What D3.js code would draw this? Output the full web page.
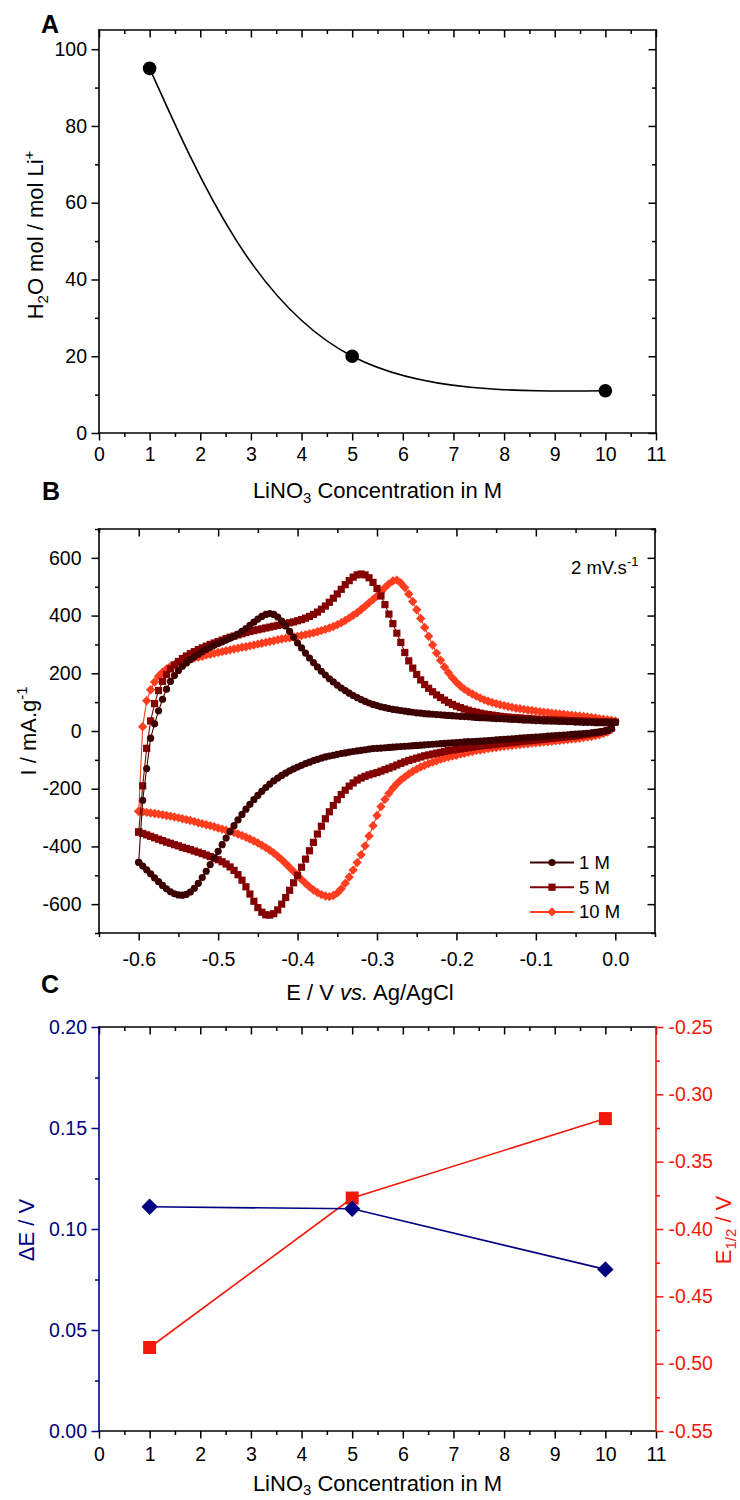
<!DOCTYPE html>
<html><head><meta charset="utf-8">
<script src="https://cdn.jsdelivr.net/npm/d3@7"></script>
<style>body{margin:0;background:#fff} svg{display:block}</style>
</head><body>
<script>
// ---------------- DATA ----------------
// Panel A
const concA = [1, 5, 10];
const h2oPerLi = [95, 20, 11];
const xTicksConc = [0,1,2,3,4,5,6,7,8,9,10,11];
const xMinorConc = [0.5,1.5,2.5,3.5,4.5,5.5,6.5,7.5,8.5,9.5,10.5];
const yTicksA = [0,20,40,60,80,100];
const yMinorA = [10,30,50,70,90];

// Panel B: cyclic voltammetry at 2 mV/s; potential grid (mV vs Ag/AgCl)
const potential_mV = [-600,-595,-590,-585,-580,-575,-570,-565,-560,-555,
 -550,-545,-540,-535,-530,-525,-520,-515,-510,-505,
 -500,-495,-490,-485,-480,-475,-470,-465,-460,-455,
 -450,-445,-440,-435,-430,-425,-420,-415,-410,-405,
 -400,-395,-390,-385,-380,-375,-370,-365,-360,-355,
 -350,-345,-340,-335,-330,-325,-320,-315,-310,-305,
 -300,-295,-290,-285,-280,-275,-270,-265,-260,-255,
 -250,-245,-240,-235,-230,-225,-220,-215,-210,-205,
 -200,-195,-190,-185,-180,-175,-170,-165,-160,-155,
 -150,-145,-140,-135,-130,-125,-120,-115,-110,-105,
 -100,-95,-90,-85,-80,-75,-70,-65,-60,-55,
 -50,-45,-40,-35,-30,-25,-20,-15,-10,-5,
 0];
// anodic (forward, -0.6 -> 0) and cathodic (reverse) currents, mA/g, listed on the grid above
const anodic1M = [-455,-240,-130,-25,25,70,110,145,172,192,
 210,224,236,247,257,266,275,283,290,297,
 303,309,315,321,328,336,345,355,366,377,
 388,397,404,407,404,395,381,364,345,325,
 305,288,270,253,237,222,207,194,181,170,
 159,149,140,131,123,116,109,103,97,92,
 88,84,81,78,75,73,71,69,67,65,
 63,62,60,59,58,57,56,55,54,53,
 52,51,50,49,48,47,46,46,45,44,
 43,43,42,41,40,40,39,38,38,37,
 36,36,35,35,34,34,33,33,32,32,
 31,31,30,30,30,29,29,29,29,29,
 30];
const cathodic1M = [-455,-468,-481,-495,-509,-522,-535,-547,-557,-564,
 -568,-569,-566,-558,-545,-528,-508,-486,-463,-440,
 -417,-394,-371,-349,-328,-308,-289,-271,-254,-238,
 -223,-209,-196,-184,-173,-163,-154,-146,-138,-131,
 -125,-119,-113,-108,-103,-98,-94,-90,-87,-84,
 -81,-78,-76,-73,-71,-69,-67,-65,-63,-61,
 -60,-59,-58,-57,-56,-55,-54,-53,-52,-51,
 -50,-49,-48,-47,-46,-45,-44,-43,-42,-41,
 -40,-39,-38,-37,-37,-36,-35,-34,-33,-32,
 -31,-30,-29,-28,-27,-26,-25,-24,-23,-22,
 -21,-20,-19,-18,-17,-16,-15,-14,-13,-12,
 -11,-10,-9,-8,-6,-5,-3,-1,2,8,
 30];
const anodic5M = [-350,-190,-60,35,95,140,172,196,215,229,
 241,251,260,268,275,282,288,294,300,305,
 310,315,320,325,329,333,337,341,345,348,
 351,354,357,360,363,366,369,372,375,378,
 382,386,391,397,404,412,422,433,446,460,
 475,491,507,521,533,541,544,541,531,515,
 494,468,438,405,372,339,307,272,243,218,
 196,177,161,148,136,125,116,107,99,92,
 86,81,76,72,68,65,62,59,57,55,
 53,51,49,48,47,46,45,44,43,42,
 41,40,40,39,38,38,37,37,36,36,
 35,35,34,34,33,33,32,32,32,31,
 31];
const cathodic5M = [-350,-355,-360,-365,-370,-375,-380,-385,-389,-394,
 -398,-403,-407,-411,-416,-420,-425,-430,-435,-440,
 -446,-453,-461,-471,-483,-498,-517,-540,-565,-590,
 -612,-628,-637,-638,-633,-620,-600,-577,-552,-526,
 -500,-472,-444,-415,-386,-357,-330,-304,-280,-258,
 -238,-220,-205,-191,-180,-170,-163,-157,-152,-148,
 -144,-139,-134,-129,-124,-118,-112,-107,-102,-98,
 -94,-90,-86,-83,-80,-77,-74,-71,-68,-66,
 -64,-62,-60,-58,-56,-54,-52,-50,-49,-47,
 -46,-44,-43,-41,-40,-38,-37,-35,-34,-33,
 -31,-30,-29,-27,-26,-24,-23,-21,-20,-18,
 -17,-15,-13,-11,-9,-7,-5,-2,2,10,
 31];
const anodic10M = [-278,15,105,143,170,190,204,215,224,230,
 235,240,245,249,253,256,259,263,266,269,
 272,275,278,281,284,287,290,292,295,298,
 301,304,307,310,313,316,319,321,323,326,
 328,331,334,337,340,344,348,352,357,362,
 368,375,383,392,401,410,421,432,444,456,
 468,482,497,510,520,523,513,497,475,449,
 420,390,359,328,298,270,245,222,202,184,
 169,156,145,136,128,121,114,108,103,99,
 95,91,88,85,82,79,77,75,73,71,
 69,67,65,64,62,61,59,58,56,55,
 53,52,50,49,47,45,43,41,39,37,
 35];
const cathodic10M = [-278,-280,-282,-284,-286,-288,-290,-293,-295,-298,
 -301,-304,-307,-310,-314,-318,-321,-325,-328,-332,
 -336,-340,-344,-348,-352,-357,-362,-368,-374,-381,
 -388,-396,-404,-413,-423,-434,-446,-459,-473,-487,
 -501,-515,-528,-540,-551,-560,-567,-572,-574,-570,
 -561,-547,-528,-506,-482,-456,-429,-398,-364,-328,
 -293,-262,-237,-216,-198,-183,-170,-159,-149,-140,
 -132,-125,-119,-113,-108,-103,-98,-94,-90,-87,
 -84,-80,-77,-74,-71,-68,-66,-63,-61,-59,
 -57,-55,-53,-51,-50,-48,-47,-45,-44,-42,
 -41,-40,-38,-37,-36,-34,-33,-31,-30,-28,
 -27,-25,-23,-21,-19,-16,-13,-9,-4,5,
 35];
const seriesNames = ["1 M", "5 M", "10 M"];
const xTicksB = [-0.6,-0.5,-0.4,-0.3,-0.2,-0.1,0.0];
const xMinorB = [-0.65,-0.55,-0.45,-0.35,-0.25,-0.15,-0.05,0.05];
const yTicksB = [-600,-400,-200,0,200,400,600];
const yMinorB = [-700,-500,-300,-100,100,300,500,700];

// Panel C
const concC = [1, 5, 10];
const deltaE = [0.111, 0.110, 0.080];
const eHalf = [-0.488, -0.377, -0.318];
const yTicksCL = [0, 0.05, 0.10, 0.15, 0.20];
const yMinorCL = [0.025, 0.075, 0.125, 0.175];
const yTicksCR = [-0.55, -0.50, -0.45, -0.40, -0.35, -0.30, -0.25];
const yMinorCR = [-0.525, -0.475, -0.425, -0.375, -0.325, -0.275];

// ---------------- DRAWING ----------------
const FONT = '"Liberation Sans", Arial, Helvetica, sans-serif';
const TICK_FS = 19.5, TITLE_FS = 22;
const col1 = "#3d0000", col5 = "#850000", col10 = "#ff3d1f";
const navy = "#000080", red = "#f2190b";

const svg = d3.select("body").append("svg").attr("width", 740).attr("height", 1500)
  .style("font-family", FONT);

const hy = f => d => d3.format(f)(d).replace("\u2212", "-");

function makeAxis(parent, orient, scale, pos, o) {
  const gen = {bottom: d3.axisBottom, top: d3.axisTop, left: d3.axisLeft, right: d3.axisRight}[orient];
  const horiz = orient === "bottom" || orient === "top";
  const tr = horiz ? `translate(0,${pos})` : `translate(${pos},0)`;
  const s = o.inward ? -1 : 1;
  const color = o.color || "#000";
  if (o.minor) {
    const gm = parent.append("g").attr("transform", tr).style("color", color)
      .call(gen(scale).tickValues(o.minor).tickSize(s * 4).tickFormat(() => ""));
    gm.select(".domain").remove();
    gm.selectAll("line").attr("stroke-width", 1.5);
  }
  const g = parent.append("g").attr("transform", tr).style("color", color)
    .call(gen(scale).tickValues(o.major).tickSize(s * 7.5).tickPadding(o.pad || 5)
      .tickFormat(o.fmt || (() => "")));
  g.select(".domain").remove();
  g.selectAll("line").attr("stroke-width", 1.5);
  g.selectAll("text").attr("font-size", TICK_FS).attr("font-family", FONT).attr("fill", color);
  return g;
}

function frame(parent, x0, x1, y0, y1, colors) {
  const c = Object.assign({top: "#000", bottom: "#000", left: "#000", right: "#000"}, colors || {});
  const seg = (a, b, cc, d, col) => parent.append("line").attr("x1", a).attr("y1", b).attr("x2", cc).attr("y2", d)
    .attr("stroke", col).attr("stroke-width", 1.6).attr("stroke-linecap", "square");
  seg(x0, y0, x1, y0, c.top);
  seg(x0, y1, x1, y1, c.bottom);
  seg(x0, y0, x0, y1, c.left);
  seg(x1, y0, x1, y1, c.right);
}

// smooth connector: natural cubic spline with chord-length parametrisation, emitted as Bezier segments
function splineConnector(pts) {
  const n = pts.length;
  const X = pts.map(p => p[0]), Y = pts.map(p => p[1]);
  const h = [];
  for (let i = 0; i < n - 1; i++) h.push(Math.hypot(X[i + 1] - X[i], Y[i + 1] - Y[i]));
  function second(f) {
    const M = new Array(n).fill(0);
    if (n < 3) return M;
    const a = [], b = [], c = [], d = [];
    for (let i = 1; i < n - 1; i++) {
      a.push(h[i - 1]); b.push(2 * (h[i - 1] + h[i])); c.push(h[i]);
      d.push(6 * ((f[i + 1] - f[i]) / h[i] - (f[i] - f[i - 1]) / h[i - 1]));
    }
    const m = b.length;
    for (let i = 1; i < m; i++) { const w = a[i] / b[i - 1]; b[i] -= w * c[i - 1]; d[i] -= w * d[i - 1]; }
    const s = new Array(m);
    s[m - 1] = d[m - 1] / b[m - 1];
    for (let i = m - 2; i >= 0; i--) s[i] = (d[i] - c[i] * s[i + 1]) / b[i];
    for (let i = 0; i < m; i++) M[i + 1] = s[i];
    return M;
  }
  const Mx = second(X), My = second(Y);
  const p = d3.path();
  p.moveTo(X[0], Y[0]);
  for (let i = 0; i < n - 1; i++) {
    const hi = h[i];
    const der = (f, M) => [(f[i + 1] - f[i]) / hi - hi * (2 * M[i] + M[i + 1]) / 6,
                           (f[i + 1] - f[i]) / hi + hi * (M[i] + 2 * M[i + 1]) / 6];
    const [dx0, dx1] = der(X, Mx), [dy0, dy1] = der(Y, My);
    p.bezierCurveTo(X[i] + hi * dx0 / 3, Y[i] + hi * dy0 / 3,
                    X[i + 1] - hi * dx1 / 3, Y[i + 1] - hi * dy1 / 3, X[i + 1], Y[i + 1]);
  }
  return p.toString();
}

function panelLetter(t, x, y) {
  svg.append("text").attr("x", x).attr("y", y).attr("font-size", 25).attr("font-weight", "bold").text(t);
}

// ---------- Panel A ----------
{
  const g = svg.append("g");
  const x = d3.scaleLinear().domain([0, 11]).range([99, 656]);
  const y = d3.scaleLinear().domain([0, 105]).range([433, 30]);
  makeAxis(g, "bottom", x, 433, {major: xTicksConc, minor: xMinorConc, fmt: d3.format("d"), pad: 7});
  makeAxis(g, "top", x, 30, {major: xTicksConc, minor: xMinorConc, inward: true});
  makeAxis(g, "left", y, 99, {major: yTicksA, minor: yMinorA, fmt: d3.format("d"), pad: 4.5});
  makeAxis(g, "right", y, 656, {major: yTicksA, minor: yMinorA, inward: true});
  frame(g, 99, 656, 30, 433);

  const pts = concA.map((c, i) => [x(c), y(h2oPerLi[i])]);
  g.append("path").attr("d", splineConnector(pts))
    .attr("fill", "none").attr("stroke", "#000").attr("stroke-width", 1.6);
  g.selectAll("circle.pa").data(pts).join("circle").attr("cx", d => d[0]).attr("cy", d => d[1])
    .attr("r", 6.8).attr("fill", "#000");

  const xt = g.append("text").attr("x", 377.5).attr("y", 498).attr("text-anchor", "middle").attr("font-size", TITLE_FS);
  xt.append("tspan").text("LiNO");
  xt.append("tspan").attr("font-size", 15).attr("dy", 5).text("3");
  xt.append("tspan").attr("dy", -5).text(" Concentration in M");

  const yt = g.append("text").attr("transform", "translate(43,235) rotate(-90)").attr("text-anchor", "middle").attr("font-size", TITLE_FS);
  yt.append("tspan").text("H");
  yt.append("tspan").attr("font-size", 15).attr("dy", 5).text("2");
  yt.append("tspan").attr("dy", -5).text("O mol / mol Li");
  yt.append("tspan").attr("font-size", 15).attr("dy", -9).text("+");
  panelLetter("A", 41, 33);
}

// ---------- Panel B ----------
{
  const g = svg.append("g");
  const x = d3.scaleLinear().domain([-0.65, 0.05]).range([99, 655]);
  const y = d3.scaleLinear().domain([-700, 700]).range([933, 529]);
  makeAxis(g, "bottom", x, 933, {major: xTicksB, minor: xMinorB, fmt: hy(".1f"), pad: 12});
  makeAxis(g, "top", x, 529, {major: xTicksB, minor: xMinorB, inward: true});
  makeAxis(g, "left", y, 99, {major: yTicksB, minor: yMinorB, fmt: hy("d"), pad: 10});
  makeAxis(g, "right", y, 655, {major: yTicksB, minor: yMinorB, inward: true});

  const loops = [
    {name: seriesNames[2], an: anodic10M, ca: cathodic10M, color: col10, sym: "diamond"},
    {name: seriesNames[1], an: anodic5M, ca: cathodic5M, color: col5, sym: "square"},
    {name: seriesNames[0], an: anodic1M, ca: cathodic1M, color: col1, sym: "circle"}
  ];
  const symPath = (sym) => {
    if (sym === "circle") return d3.symbol(d3.symbolCircle, Math.PI * 3.6 * 3.6)();
    if (sym === "square") return d3.symbol(d3.symbolSquare, 7.2 * 7.2)();
    const h = 4.7; return `M0,${-h}L${h},0L0,${h}L${-h},0Z`;
  };
  loops.forEach(L => {
    const fwd = potential_mV.map((e, i) => [e / 1000, L.an[i]]);
    const rev = potential_mV.map((e, i) => [e / 1000, L.ca[i]]).reverse();
    const pts = fwd.concat(rev.slice(1));
    g.append("path").attr("d", d3.line().x(d => x(d[0])).y(d => y(d[1]))(pts))
      .attr("fill", "none").attr("stroke", L.color).attr("stroke-width", 1.1);
    const p = symPath(L.sym);
    g.append("g").selectAll("path").data(pts).join("path")
      .attr("transform", d => `translate(${x(d[0])},${y(d[1])})`).attr("d", p).attr("fill", L.color);
  });
  frame(g, 99, 655, 529, 933);

  // legend
  const leg = [
    {name: seriesNames[0], color: col1, sym: "circle"},
    {name: seriesNames[1], color: col5, sym: "square"},
    {name: seriesNames[2], color: col10, sym: "diamond"}
  ];
  leg.forEach((L, i) => {
    const yy = 862.5 + i * 24.7;
    g.append("line").attr("x1", 530).attr("x2", 574).attr("y1", yy).attr("y2", yy)
      .attr("stroke", L.color).attr("stroke-width", 2);
    g.append("path").attr("transform", `translate(552,${yy})`).attr("d", symPath(L.sym)).attr("fill", L.color);
    g.append("text").attr("x", 579).attr("y", yy + 6.5).attr("font-size", 18.5).text(L.name);
  });

  const ann = g.append("text").attr("x", 571).attr("y", 574).attr("font-size", 18.5);
  ann.append("tspan").text("2 mV.s");
  ann.append("tspan").attr("font-size", 13).attr("dy", -8).text("-1");

  const xt = g.append("text").attr("x", 370).attr("y", 1000).attr("text-anchor", "middle").attr("font-size", TITLE_FS);
  xt.append("tspan").text("E / V ");
  xt.append("tspan").attr("font-style", "italic").text("vs.");
  xt.append("tspan").text(" Ag/AgCl");

  const yt = g.append("text").attr("transform", "translate(36,731) rotate(-90)").attr("text-anchor", "middle").attr("font-size", TITLE_FS);
  yt.append("tspan").text("I / mA.g");
  yt.append("tspan").attr("font-size", 15).attr("dy", -9).text("-1");
  panelLetter("B", 42, 500);
}

// ---------- Panel C ----------
{
  const g = svg.append("g");
  const x = d3.scaleLinear().domain([0, 11]).range([99, 656]);
  const yl = d3.scaleLinear().domain([0, 0.2]).range([1431, 1027]);
  const yr = d3.scaleLinear().domain([-0.55, -0.25]).range([1431, 1027]);
  makeAxis(g, "bottom", x, 1431, {major: xTicksConc, minor: xMinorConc, fmt: d3.format("d"), pad: 9});
  makeAxis(g, "top", x, 1027, {major: xTicksConc, minor: xMinorConc, inward: true});
  makeAxis(g, "left", yl, 99, {major: yTicksCL, minor: yMinorCL, fmt: d3.format(".2f"), pad: 4.5, color: navy});
  makeAxis(g, "right", yr, 656, {major: yTicksCR, minor: yMinorCR, fmt: hy(".2f"), pad: 5, color: red});
  frame(g, 99, 656, 1027, 1431, {left: navy, right: red});

  const pE = concC.map((c, i) => [x(c), yr(eHalf[i])]);
  const pD = concC.map((c, i) => [x(c), yl(deltaE[i])]);
  g.append("path").attr("d", d3.line()(pE)).attr("fill", "none").attr("stroke", red).attr("stroke-width", 1.6);
  g.append("path").attr("d", d3.line()(pD)).attr("fill", "none").attr("stroke", navy).attr("stroke-width", 1.6);
  g.selectAll("rect.sq").data(pE).join("rect").attr("x", d => d[0] - 6.5).attr("y", d => d[1] - 6.5)
    .attr("width", 13).attr("height", 13).attr("fill", red);
  const h = 8.2;
  g.selectAll("path.dm").data(pD).join("path")
    .attr("d", d => `M${d[0]},${d[1] - h}L${d[0] + h},${d[1]}L${d[0]},${d[1] + h}L${d[0] - h},${d[1]}Z`)
    .attr("fill", navy);

  const xt = g.append("text").attr("x", 377.5).attr("y", 1491).attr("text-anchor", "middle").attr("font-size", TITLE_FS);
  xt.append("tspan").text("LiNO");
  xt.append("tspan").attr("font-size", 15).attr("dy", 4).text("3");
  xt.append("tspan").attr("dy", -4).text(" Concentration in M");

  g.append("text").attr("transform", "translate(34,1230) rotate(-90)").attr("text-anchor", "middle")
    .attr("font-size", TITLE_FS).attr("fill", navy).text("\u0394E / V");
  const yr2 = g.append("text").attr("transform", "translate(731,1230) rotate(-90)").attr("text-anchor", "middle")
    .attr("font-size", TITLE_FS).attr("fill", red);
  yr2.append("tspan").text("E");
  yr2.append("tspan").attr("font-size", 15).attr("dy", 5).text("1/2");
  yr2.append("tspan").attr("dy", -5).text(" / V");
  panelLetter("C", 41, 993);
}
</script>
</body></html>
